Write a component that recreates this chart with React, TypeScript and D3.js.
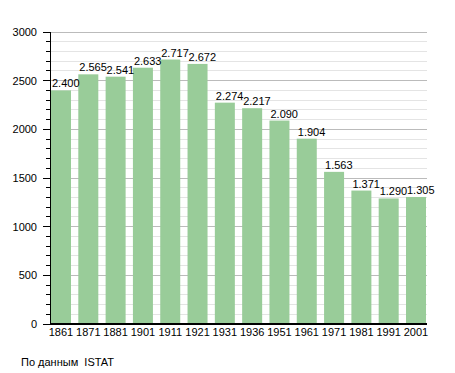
import React from "react";
import * as d3 from "d3";

const years = ["1861","1871","1881","1901","1911","1921","1931","1936","1951","1961","1971","1981","1991","2001"];
const population = [2400,2565,2541,2633,2717,2672,2274,2217,2090,1904,1563,1371,1290,1305];
const valueLabels = ["2.400","2.565","2.541","2.633","2.717","2.672","2.274","2.217","2.090","1.904","1.563","1.371","1.290","1.305"];
const majorTicks = [0,500,1000,1500,2000,2500,3000];
const sourceText = "По данным  ISTAT";

export default function App() {
  const W = 455, H = 373;
  const left = 50, right = 427, top = 32, bottom = 324;
  const x = d3.scaleBand().domain(years).range([51, 426]).paddingInner(0.2676).paddingOuter(0);
  const y = d3.scaleLinear().domain([0, 3000]).range([bottom, top]);
  const minor = d3.range(0, 3001, 100);
  const font = "'Liberation Sans', Arial, sans-serif";
  return (
    <svg width={W} height={H} style={{ position: "absolute", left: 0, top: 0, background: "#fff" }}>
      {minor.map(v => (
        <line key={"g" + v} x1={left} x2={right} y1={y(v)} y2={y(v)}
          stroke={v % 500 === 0 ? "#bbbbbb" : "#e4e4e4"} strokeWidth={1} shapeRendering="crispEdges" />
      ))}
      {population.map((v, i) => (
        <rect key={"b" + i} x={x(years[i])} y={y(v)} width={x.bandwidth()} height={bottom - y(v)} fill="#99cc99" />
      ))}
      {population.map((v, i) => (
        <text key={"l" + i} x={(x(years[i]) as number) + 1} y={y(v) - 3} fontFamily={font} fontSize={11} fill="#000">{valueLabels[i]}</text>
      ))}
      <line x1={left} x2={left} y1={top} y2={bottom} stroke="#000" shapeRendering="crispEdges" />
      <line x1={left} x2={right} y1={bottom} y2={bottom} stroke="#000" strokeWidth={1.5} shapeRendering="crispEdges" />
      {minor.map(v => (
        <line key={"t" + v} x1={v % 500 === 0 ? left - 7 : left - 4} x2={left} y1={y(v)} y2={y(v)} stroke="#000" shapeRendering="crispEdges" />
      ))}
      {majorTicks.map(v => (
        <text key={"y" + v} x={37} y={y(v) + 4} textAnchor="end" fontFamily={font} fontSize={11} fill="#000">{v}</text>
      ))}
      {years.map(yr => (
        <text key={"x" + yr} x={(x(yr) as number) + x.bandwidth() / 2} y={336} textAnchor="middle" fontFamily={font} fontSize={11} fill="#000">{yr}</text>
      ))}
      <text x={21} y={366} fontFamily={font} fontSize={11} fill="#000" style={{ whiteSpace: "pre" }}>{sourceText}</text>
    </svg>
  );
}
